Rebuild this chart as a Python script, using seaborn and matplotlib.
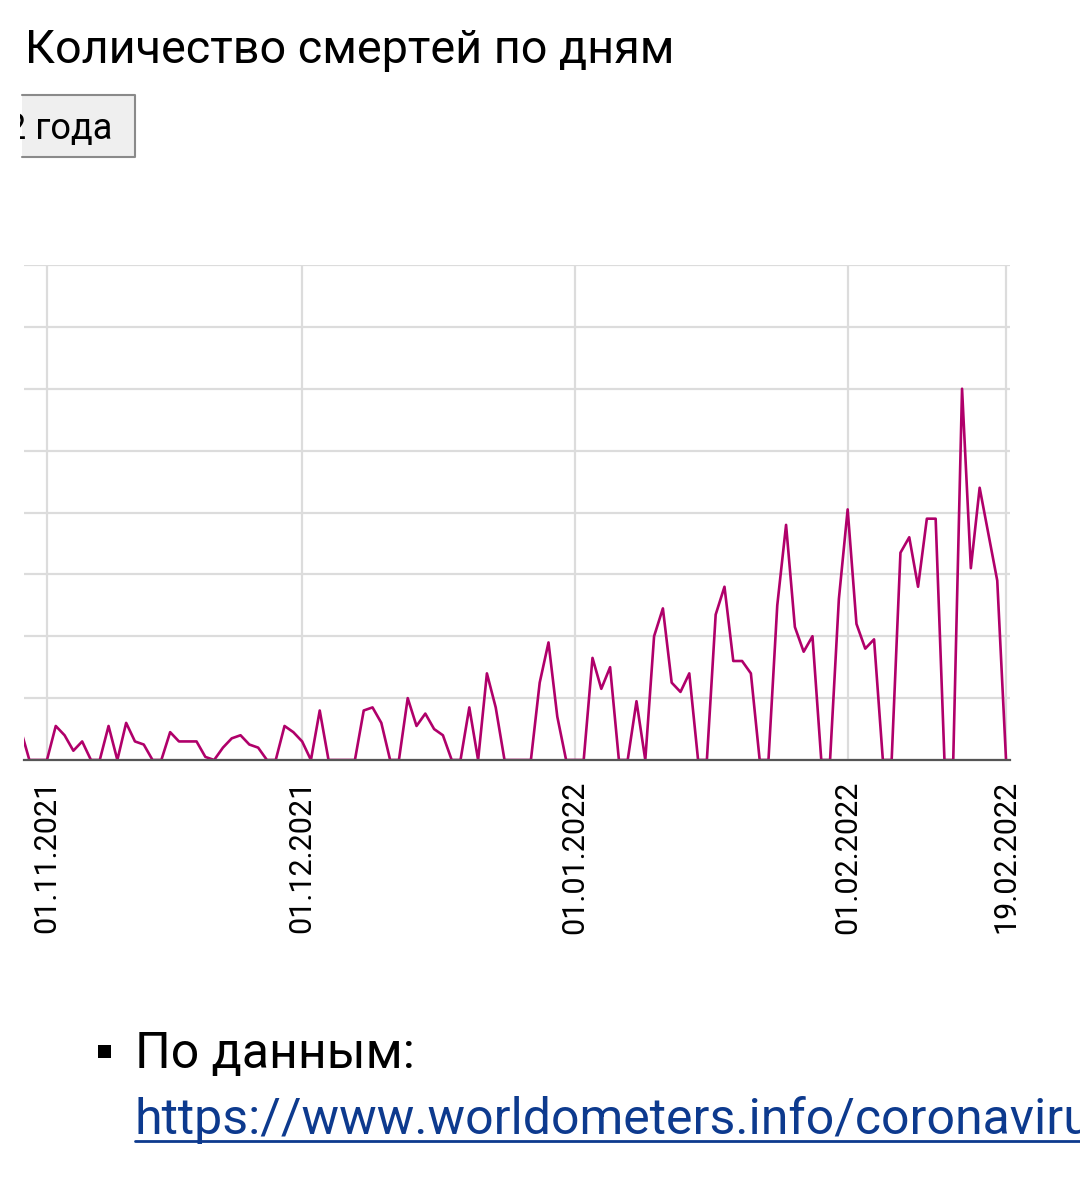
import matplotlib
matplotlib.use("Agg")
import matplotlib.pyplot as plt
from matplotlib.patches import Rectangle
from matplotlib.lines import Line2D
from matplotlib.transforms import Bbox, TransformedBbox
import seaborn as sns

# daily deaths (one point per day, day 0 = 01.11.2021)
day_index = list(range(-3, 110))
deaths = [
    10, 0, 0,
    # november
    0, 11, 8, 3, 6, 0, 0, 11, 0, 12, 6, 5, 0, 0, 9, 6, 6, 6, 1, 0,
    4, 7, 8, 5, 4, 0, 0, 11, 9, 6,
    # december
    0, 16, 0, 0, 0, 0, 16, 17, 12, 0, 0, 20, 11, 15, 10, 8, 0, 0, 17, 0,
    28, 17, 0, 0, 0, 0, 25, 38, 14, 0,
    # january
    0, 0, 33, 23, 30, 0, 0, 19, 0, 40, 49, 25, 22, 28, 0, 0, 47, 56, 32, 32,
    28, 0, 0, 50, 76, 43, 35, 40, 0, 0, 52,
    # february
    81, 44, 36, 39, 0, 0, 67, 72, 56, 78, 78, 0, 0, 120, 62, 88, 73, 58, 0,
]
tick_days = [0, 29, 60, 91, 109]
tick_labels = ["01.11.2021", "01.12.2021", "01.01.2022", "01.02.2022", "19.02.2022"]
y_ticks = [0, 20, 40, 60, 80, 100, 120, 140, 160]

title = "Количество смертей по дням"
button_text = "2 года"
source_text = "По данным:"
source_url = "https://www.worldometers.info/coronavirus/"

line_color = "#b0006a"
grid_color = "#dcdcdc"
axis_color = "#555555"
link_color = "#0d3a8e"

sns.set_style("white")
plt.rcParams['font.family'] = ['Roboto', 'DejaVu Sans']

W, H = 1080, 1185
def fx(x):
    return x / W
def fy(y):
    return 1 - y / H

fig = plt.figure(figsize=(W / 100, H / 100), dpi=100)
ax = fig.add_axes([fx(24), fy(760), (1010 - 24) / W, (760 - 265) / H])

sns.lineplot(x=day_index, y=deaths, ax=ax, color=line_color, linewidth=1.9)

ax.set_xlim(-2.61, 109.45)
ax.set_ylim(0, 160)
ax.set_xticks(tick_days)
ax.set_xticklabels(tick_labels)
ax.set_yticks(y_ticks)
ax.set_yticklabels([])
ax.set_xlabel("")
ax.set_ylabel("")

# grid + axis styling
ax.grid(True, color=grid_color, linewidth=1.6)
ax.set_axisbelow(True)
for side in ['top', 'right', 'left']:
    ax.spines[side].set_visible(False)
ax.spines['bottom'].set_color(axis_color)
ax.spines['bottom'].set_linewidth(1.6)
ax.tick_params(axis='x', length=7.5, width=1.6, color=axis_color, pad=7,
               labelsize=22, labelrotation=90, labelcolor='black')
ax.tick_params(axis='y', length=0)

# title
fig.text(fx(25), fy(63), title, fontsize=33.7, ha='left', va='baseline', color='black')

# range button, scrolled off to the left (everything left of x=22 is hidden)
fig.add_artist(Rectangle((fx(22), fy(157)), 113 / W, 62 / H, transform=fig.transFigure,
                         facecolor='#efefef', edgecolor='none'))
fig.add_artist(Line2D([fx(22), fx(135), fx(135), fx(22)], [fy(95), fy(95), fy(157), fy(157)],
                      transform=fig.transFigure, color='#8a8a8a', linewidth=1.5))
btn = fig.text(fx(112), fy(139), button_text, fontsize=26, ha='right', va='baseline', color='black')
btn.set_clip_box(TransformedBbox(Bbox([[fx(20), 0], [1, 1]]), fig.transFigure))
btn.set_clip_on(True)

# source note under the chart
fig.add_artist(Rectangle((fx(98), fy(1058)), 13 / W, 13 / H, transform=fig.transFigure,
                         facecolor='black', edgecolor='none'))
fig.text(fx(135), fy(1068), source_text, fontsize=36, ha='left', va='baseline', color='black')
fig.text(fx(135), fy(1134), source_url, fontsize=36, ha='left', va='baseline', color=link_color)
fig.add_artist(Line2D([fx(135), fx(1080)], [fy(1141), fy(1141)], transform=fig.transFigure,
                      color=link_color, linewidth=2))

plt.savefig("out.png", dpi=100)
plt.close()
